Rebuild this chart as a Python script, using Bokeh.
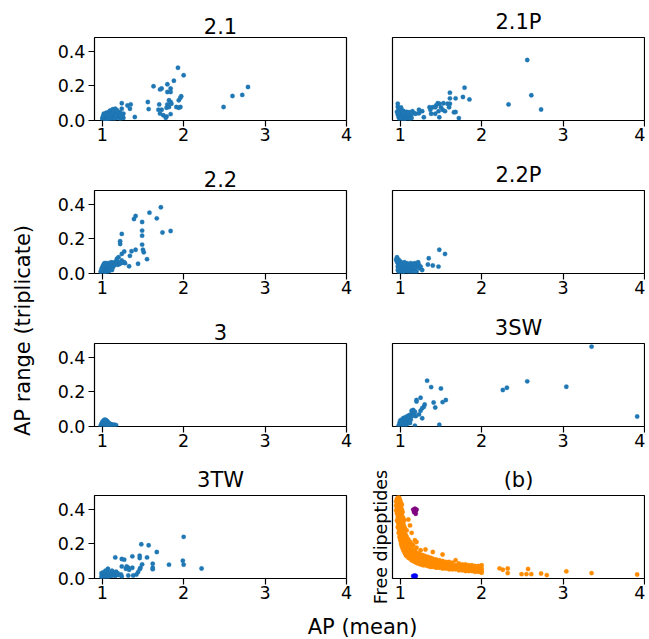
import math
from bokeh.plotting import figure
from bokeh.layouts import row, column
from bokeh.models import Range1d, Label, FixedTicker, PrintfTickFormatter
from bokeh.embed import file_html
from bokeh.resources import INLINE

FONT = "DejaVu Sans"
BLUE = "#1f77b4"
ORANGE = "#ff8c00"
PURPLE = "#800080"
PURE_BLUE = "#0000ff"

TITLES = ["2.1", "2.1P", "2.2", "2.2P", "3", "3SW", "3TW", "(b)"]
X_TICKS = [1, 2, 3, 4]
Y_TICKS = [0.0, 0.2, 0.4]
X_LABEL = "AP (mean)"
Y_LABEL = "AP range (triplicate)"
B_YLABEL = "Free dipeptides"

P_21 = [(1.93,0.305),(2.00,0.262),(1.88,0.23),(1.63,0.198),(1.80,0.21),(1.71,0.18),(1.73,0.185),(1.80,0.165),
        (1.84,0.185),(1.84,0.165),(1.56,0.107),(1.57,0.066),(1.70,0.093),(1.69,0.062),(1.73,0.062),(1.71,0.04),
        (1.75,0.03),(1.79,0.023),(1.78,0.016),(1.84,0.037),(1.82,0.117),(1.80,0.093),(1.84,0.107),(1.85,0.097),
        (1.91,0.078),(1.94,0.074),(1.96,0.078),(1.94,0.117),(1.96,0.132),(1.97,0.14),(1.79,0.074),(1.82,0.078),
        (2.49,0.078),(2.60,0.142),(2.72,0.148),(2.79,0.194),(1.24,0.10),(1.31,0.087),(1.34,0.068),(1.35,0.093),
        (1.40,0.02),(1.24,0.068),(1.26,0.04),(1.16,0.068),(1.10,0.058),
        (1.00,0.010),(1.01,0.020),(1.02,0.005),(1.02,0.030),(1.03,0.015),(1.03,0.035),(1.04,0.020),(1.04,0.010),
        (1.05,0.030),(1.05,0.045),(1.06,0.015),(1.06,0.025),(1.07,0.040),(1.07,0.010),(1.08,0.020),(1.08,0.050),
        (1.09,0.030),(1.09,0.012),(1.10,0.025),(1.10,0.055),(1.11,0.035),(1.12,0.020),(1.12,0.045),(1.13,0.030),
        (1.14,0.060),(1.15,0.025),(1.16,0.040),(1.17,0.015),(1.18,0.035),(1.19,0.020),(1.20,0.030),(1.21,0.020),
        (1.22,0.010),(1.24,0.035),(1.25,0.025),(1.01,0.025),(1.03,0.005),(1.05,0.008),(1.07,0.030),(1.09,0.040),
        (1.11,0.008),(1.13,0.050),(1.15,0.010),(1.17,0.028),(1.02,0.040),(1.04,0.038),(1.06,0.008),(1.08,0.030),
        (1.20,0.050),(1.22,0.045),(1.18,0.060),(1.13,0.065),(1.26,0.015),(1.23,0.030)]

P_21P = [(2.56,0.35),(2.61,0.146),(2.73,0.064),(2.33,0.093),(1.79,0.19),(1.85,0.122),(1.77,0.136),(1.61,0.161),
         (1.68,0.128),(1.61,0.128),(1.72,0.014),(1.68,0.049),(1.53,0.100),(1.58,0.097),(1.48,0.097),(1.46,0.100),
         (1.44,0.087),(1.43,0.077),(1.50,0.077),(1.52,0.062),(1.55,0.054),(1.47,0.054),(1.40,0.077),(1.36,0.077),
         (1.37,0.062),(1.48,0.019),(1.38,0.039),(1.43,0.039),(1.27,0.054),(1.23,0.062),(1.23,0.042),(1.15,0.054),
         (1.17,0.042),(1.19,0.039),(1.11,0.048),(1.09,0.029),(1.07,0.039),(1.29,0.019),(1.66,0.048),(1.60,0.077),
         (1.61,0.097),
         (0.97,0.097),(0.97,0.08),(0.98,0.065),(0.96,0.05),(0.97,0.035),(0.98,0.02),(0.99,0.01),(1.00,0.04),
         (1.00,0.06),(1.01,0.025),(1.01,0.075),(1.02,0.005),(1.02,0.045),(1.03,0.03),(1.03,0.015),(1.04,0.055),
         (1.04,0.02),(1.05,0.035),(1.05,0.008),(1.06,0.045),(1.06,0.02),(1.07,0.01),(1.08,0.03),(1.08,0.05),
         (1.09,0.015),(1.10,0.04),(1.11,0.02),(1.12,0.01),(1.13,0.03),(1.14,0.015),(0.99,0.045),(1.00,0.02),
         (1.02,0.06),(0.98,0.04),(1.01,0.012),(1.03,0.05)]

P_22 = [(1.72,0.383),(1.58,0.352),(1.67,0.319),(1.41,0.333),(1.39,0.315),(1.49,0.298),(1.49,0.248),(1.49,0.219),
        (1.74,0.237),(1.84,0.246),(1.24,0.229),(1.22,0.187),(1.22,0.171),(1.49,0.167),(1.50,0.137),(1.51,0.123),
        (1.41,0.137),(1.36,0.129),(1.27,0.127),(1.24,0.113),(1.34,0.102),(1.55,0.083),(1.44,0.056),(1.33,0.042),
        (1.20,0.094),(1.24,0.075),(1.27,0.065),(1.18,0.085),
        (0.98,0.01),(0.99,0.025),(1.00,0.005),(1.00,0.035),(1.01,0.015),(1.01,0.045),(1.02,0.025),(1.02,0.055),
        (1.03,0.01),(1.03,0.035),(1.04,0.02),(1.04,0.045),(1.05,0.03),(1.05,0.06),(1.06,0.015),(1.06,0.04),
        (1.07,0.05),(1.07,0.025),(1.08,0.035),(1.08,0.06),(1.09,0.045),(1.09,0.02),(1.10,0.055),(1.10,0.03),
        (1.11,0.04),(1.11,0.065),(1.12,0.05),(1.13,0.06),(1.13,0.035),(1.14,0.045),(1.15,0.065),(1.15,0.05),
        (1.16,0.055),(1.17,0.07),(1.18,0.06),(1.19,0.05),(1.20,0.065),(1.21,0.055),(1.22,0.06),(1.23,0.06),
        (1.25,0.065),(1.28,0.06),(1.02,0.005),(1.05,0.008),(1.08,0.012),(1.12,0.02),(1.03,0.06),(1.00,0.02)]

P_22P = [(1.48,0.137),(1.55,0.113),(1.35,0.088),(1.34,0.052),(1.40,0.046),(1.47,0.04),(0.96,0.094),(0.95,0.08),
         (0.96,0.07),(0.97,0.06),(0.97,0.04),(0.97,0.02),(0.98,0.08),(0.98,0.05),(0.98,0.03),(0.98,0.01),
         (0.99,0.065),(0.99,0.045),(0.99,0.02),(1.00,0.07),(1.00,0.055),(1.00,0.035),(1.00,0.01),(1.01,0.06),
         (1.01,0.04),(1.01,0.02),(1.02,0.05),(1.02,0.03),(1.02,0.005),(1.03,0.06),(1.03,0.04),(1.03,0.015),
         (1.04,0.05),(1.04,0.025),(1.05,0.04),(1.05,0.01),(1.06,0.055),(1.06,0.03),(1.07,0.045),(1.07,0.015),
         (1.08,0.06),(1.08,0.035),(1.09,0.05),(1.09,0.02),(1.10,0.04),(1.10,0.01),(1.11,0.055),(1.11,0.03),
         (1.12,0.045),(1.12,0.015),(1.13,0.06),(1.13,0.035),(1.14,0.05),(1.14,0.02),(1.15,0.04),(1.16,0.055),
         (1.16,0.025),(1.17,0.045),(1.18,0.06),(1.18,0.03),(1.19,0.05),(1.20,0.04),(1.21,0.055),(1.22,0.035),
         (1.23,0.05),(1.24,0.03),(1.25,0.04),(1.27,0.02),(1.22,0.065),(1.05,0.065),(1.15,0.005),(1.20,0.01)]

P_3 = [(0.98,0.005),(0.99,0.015),(1.00,0.025),(1.00,0.01),(1.01,0.03),(1.01,0.02),(1.02,0.035),(1.02,0.01),
       (1.03,0.04),(1.03,0.025),(1.04,0.03),(1.04,0.015),(1.05,0.035),(1.05,0.02),(1.06,0.03),(1.06,0.01),
       (1.07,0.025),(1.07,0.015),(1.08,0.02),(1.09,0.01),(1.10,0.015),(1.11,0.01),(1.12,0.012),(1.13,0.008),
       (1.15,0.01),(1.17,0.008),(1.03,0.005),(1.05,0.005),(1.02,0.02),(1.04,0.038),(1.06,0.02),(1.08,0.01)]

P_3SW = [(3.35,0.462),(2.56,0.261),(3.04,0.23),(2.26,0.211),(2.31,0.224),(3.91,0.058),(1.33,0.265),(1.38,0.228),
         (1.50,0.22),(1.41,0.139),(1.43,0.11),(1.52,0.141),(1.56,0.153),(1.25,0.166),(1.20,0.153),(1.29,0.114),
         (1.27,0.106),(1.25,0.091),(1.14,0.091),(1.16,0.095),(1.27,0.048),(1.48,0.01),(1.18,0.004),(1.20,0.145),
         (1.30,0.127),(1.23,0.07),(1.19,0.06),
         (0.98,0.005),(0.99,0.02),(1.00,0.01),(1.00,0.035),(1.01,0.02),(1.02,0.04),(1.02,0.01),(1.03,0.03),
         (1.04,0.05),(1.04,0.015),(1.05,0.035),(1.06,0.045),(1.06,0.02),(1.07,0.055),(1.07,0.03),(1.08,0.04),
         (1.09,0.06),(1.09,0.025),(1.10,0.05),(1.11,0.065),(1.11,0.035),(1.12,0.055),(1.13,0.07),(1.13,0.04),
         (1.14,0.06),(1.15,0.08),(1.16,0.065),(1.17,0.075),(1.18,0.085),(1.02,0.025),(1.05,0.008),(1.08,0.012),
         (1.12,0.02)]

P_3TW = [(2.00,0.241),(1.48,0.198),(1.57,0.192),(1.67,0.153),(1.16,0.122),(1.37,0.128),(1.46,0.132),(1.46,0.118),
         (1.55,0.122),(1.24,0.113),(1.27,0.109),(1.99,0.103),(2.00,0.08),(1.82,0.08),(2.22,0.058),(1.62,0.085),
         (1.62,0.062),(1.62,0.054),(1.49,0.082),(1.47,0.062),(1.46,0.054),(1.44,0.037),(1.42,0.023),(1.30,0.07),
         (1.32,0.062),(1.33,0.05),(1.29,0.056),(1.24,0.07),(1.37,0.062),(1.38,0.017),(1.32,0.017),(1.24,0.012),
         (1.23,0.023),(1.07,0.056),
         (0.99,0.01),(0.99,0.03),(1.00,0.02),(1.01,0.035),(1.01,0.005),(1.02,0.025),(1.03,0.015),(1.03,0.035),
         (1.04,0.02),(1.05,0.03),(1.05,0.008),(1.06,0.04),(1.06,0.018),(1.07,0.025),(1.08,0.035),(1.08,0.01),
         (1.09,0.02),(1.10,0.03),(1.11,0.015),(1.12,0.025),(1.13,0.035),(1.14,0.02),(1.15,0.03),(1.16,0.015),
         (1.17,0.04),(1.18,0.025),(1.20,0.02),(1.19,0.03),(1.12,0.045),(1.04,0.045),(1.00,0.005)]

# panel (b): free dipeptides (arbitrary vertical units, no ticks)
B_ORANGE = [(0.95,0.82),(0.95,0.88),(0.95,0.93),
            (0.96,0.70),(0.96,0.78),(0.96,0.85),(0.96,0.91),(0.96,0.96),
            (0.97,0.62),(0.97,0.68),(0.97,0.74),(0.97,0.80),(0.97,0.86),(0.97,0.92),(0.97,0.97),
            (0.98,0.55),(0.98,0.60),(0.98,0.66),(0.98,0.72),(0.98,0.78),(0.98,0.84),(0.98,0.90),(0.98,0.95),(0.98,0.98),
            (0.99,0.50),(0.99,0.56),(0.99,0.63),(0.99,0.69),(0.99,0.75),(0.99,0.81),(0.99,0.87),(0.99,0.93),(0.99,0.97),
            (1.00,0.46),(1.00,0.52),(1.00,0.58),(1.00,0.64),(1.00,0.70),(1.00,0.76),(1.00,0.82),(1.00,0.88),(1.00,0.94),
            (1.01,0.42),(1.01,0.48),(1.01,0.54),(1.01,0.60),(1.01,0.67),(1.01,0.73),(1.01,0.79),(1.01,0.85),(1.01,0.91),
            (1.02,0.39),(1.02,0.45),(1.02,0.51),(1.02,0.57),(1.02,0.63),(1.02,0.70),(1.02,0.76),(1.02,0.83),(1.02,0.89),
            (1.03,0.36),(1.03,0.42),(1.03,0.48),(1.03,0.54),(1.03,0.60),(1.03,0.67),(1.03,0.74),(1.03,0.80),
            (1.04,0.34),(1.04,0.40),(1.04,0.46),(1.04,0.52),(1.04,0.58),(1.04,0.65),(1.04,0.72),
            (1.05,0.32),(1.05,0.37),(1.05,0.43),(1.05,0.49),(1.05,0.55),(1.05,0.62),(1.05,0.70),
            (1.06,0.30),(1.06,0.35),(1.06,0.41),(1.06,0.47),(1.06,0.53),(1.06,0.60),
            (1.07,0.28),(1.07,0.33),(1.07,0.39),(1.07,0.45),(1.07,0.52),
            (1.08,0.27),(1.08,0.32),(1.08,0.37),(1.08,0.43),(1.08,0.50),(1.08,0.58),
            (1.10,0.25),(1.10,0.30),(1.10,0.35),(1.10,0.41),(1.10,0.47),(1.10,0.71),
            (1.12,0.24),(1.12,0.28),(1.12,0.33),(1.12,0.38),(1.12,0.44),(1.12,0.64),
            (1.14,0.22),(1.14,0.27),(1.14,0.31),(1.14,0.36),(1.14,0.42),(1.14,0.55),
            (1.16,0.21),(1.16,0.25),(1.16,0.30),(1.16,0.34),(1.16,0.40),
            (1.18,0.20),(1.18,0.24),(1.18,0.28),(1.18,0.33),(1.18,0.46),
            (1.20,0.19),(1.20,0.23),(1.20,0.27),(1.20,0.31),(1.20,0.37),(1.20,0.44),
            (1.22,0.18),(1.22,0.22),(1.22,0.26),(1.22,0.30),
            (1.25,0.17),(1.25,0.21),(1.25,0.25),(1.25,0.29),(1.25,0.34),
            (1.28,0.16),(1.28,0.20),(1.28,0.24),(1.28,0.28),
            (1.31,0.16),(1.31,0.19),(1.31,0.23),(1.31,0.27),(1.31,0.35),
            (1.34,0.15),(1.34,0.18),(1.34,0.22),(1.34,0.26),
            (1.37,0.14),(1.37,0.18),(1.37,0.21),(1.37,0.25),
            (1.40,0.14),(1.40,0.17),(1.40,0.21),(1.40,0.24),(1.40,0.32),
            (1.44,0.13),(1.44,0.16),(1.44,0.20),(1.44,0.23),
            (1.48,0.13),(1.48,0.16),(1.48,0.19),(1.48,0.22),
            (1.52,0.12),(1.52,0.15),(1.52,0.18),(1.52,0.21),(1.52,0.29),
            (1.56,0.12),(1.56,0.15),(1.56,0.18),(1.56,0.20),
            (1.60,0.11),(1.60,0.14),(1.60,0.17),(1.60,0.20),
            (1.64,0.11),(1.64,0.14),(1.64,0.16),(1.64,0.19),
            (1.68,0.11),(1.68,0.13),(1.68,0.16),(1.68,0.22),
            (1.72,0.10),(1.72,0.13),(1.72,0.15),(1.72,0.18),
            (1.76,0.10),(1.76,0.12),(1.76,0.15),(1.76,0.17),
            (1.80,0.09),(1.80,0.12),(1.80,0.14),(1.80,0.17),
            (1.84,0.09),(1.84,0.11),(1.84,0.14),(1.84,0.16),
            (1.88,0.09),(1.88,0.11),(1.88,0.13),(1.88,0.16),
            (1.92,0.08),(1.92,0.10),(1.92,0.13),(1.92,0.15),
            (1.96,0.08),(1.96,0.10),(1.96,0.12),(1.96,0.15),
            (2.00,0.07),(2.00,0.09),(2.00,0.12),(2.00,0.16),
            (2.22,0.122),(2.26,0.106),(2.32,0.12),(2.32,0.065),(2.49,0.053),(2.55,0.053),(2.57,0.114),
            (2.61,0.053),(2.73,0.061),(2.80,0.041),(3.04,0.086),(3.35,0.065),(3.91,0.049)]
B_PURPLE = [(1.16,0.83),(1.18,0.84),(1.19,0.82),(1.17,0.80),(1.19,0.78),(1.18,0.81),(1.20,0.83)]
B_BLUE = [(1.16,0.03),(1.18,0.035),(1.19,0.03),(1.17,0.028)]

PANELS = [
    (TITLES[0], [(P_21, BLUE)]),
    (TITLES[1], [(P_21P, BLUE)]),
    (TITLES[2], [(P_22, BLUE)]),
    (TITLES[3], [(P_22P, BLUE)]),
    (TITLES[4], [(P_3, BLUE)]),
    (TITLES[5], [(P_3SW, BLUE)]),
    (TITLES[6], [(P_3TW, BLUE)]),
    (TITLES[7], [(B_ORANGE, ORANGE), (B_PURPLE, PURPLE), (B_BLUE, PURE_BLUE)]),
]

X_RANGE = (0.905, 4.0)
Y_RANGE = (0.0, 0.48)
B_RANGE = (0.0, 1.0)

TICK_FS = "17.5px"
TITLE_FS = "21px"


def make_panel(idx, title, series):
    is_left = idx % 2 == 0
    last = idx >= 6
    is_b = idx == 7
    if last:
        h, mbt, mbb = 153, 36, 34
    else:
        h, mbt, mbb = 153, 37, 33
    if is_left:
        w, mbl, mbr = 320, 58, 10
    else:
        w, mbl, mbr = 289, 36, 1
    yr = B_RANGE if is_b else Y_RANGE
    kw = {}
    if not is_left and not is_b:
        kw["y_axis_location"] = None
    p = figure(width=w, height=h, x_range=Range1d(*X_RANGE), y_range=Range1d(*yr),
               output_backend="svg", toolbar_location=None,
               min_border_left=mbl, min_border_right=mbr, min_border_top=mbt, min_border_bottom=mbb,
               **kw)
    p.title.text = title
    p.title.align = "center"
    p.title.text_font = FONT
    p.title.text_font_size = TITLE_FS
    p.title.text_font_style = "normal"
    p.title.text_color = "black"
    p.title.standoff = 8
    p.grid.visible = False
    p.outline_line_color = "black"
    p.outline_line_width = 1.2
    p.outline_line_alpha = 1.0
    p.background_fill_color = "white"
    p.border_fill_color = "white"
    for pts, color in series:
        p.scatter([a for a, b in pts], [b for a, b in pts], size=4.4,
                  fill_color=color, line_color=color, line_width=0.3)
    xa = p.xaxis[0]
    xa.ticker = FixedTicker(ticks=X_TICKS)
    xa.axis_line_color = None
    xa.major_tick_out = 6
    xa.major_tick_in = 0
    xa.major_tick_line_width = 1.2
    xa.minor_tick_line_color = None
    xa.major_label_standoff = 1
    xa.major_label_text_font = FONT
    xa.major_label_text_font_size = TICK_FS
    xa.major_label_text_color = "black"
    if is_left:
        ya = p.yaxis[0]
        ya.ticker = FixedTicker(ticks=Y_TICKS)
        ya.formatter = PrintfTickFormatter(format="%.1f")
        ya.axis_line_color = None
        ya.major_tick_out = 6
        ya.major_tick_in = 0
        ya.major_tick_line_width = 1.2
        ya.minor_tick_line_color = None
        ya.major_label_standoff = 3
        ya.major_label_text_font = FONT
        ya.major_label_text_font_size = TICK_FS
        ya.major_label_text_color = "black"
    elif is_b:
        ya = p.yaxis[0]
        ya.ticker = FixedTicker(ticks=[])
        ya.axis_line_color = None
        ya.major_tick_out = 0
        ya.minor_tick_line_color = None
        ya.major_label_text_font_size = "0px"
        ya.axis_label = B_YLABEL
        ya.axis_label_text_font = FONT
        ya.axis_label_text_font_size = TICK_FS
        ya.axis_label_text_font_style = "normal"
        ya.axis_label_text_color = "black"
        ya.axis_label_standoff = 2
    return p


panels = [make_panel(i, t, s) for i, (t, s) in enumerate(PANELS)]

TOTAL_H = 638
ylab = figure(width=36, height=TOTAL_H, x_range=Range1d(0, 36), y_range=Range1d(0, TOTAL_H),
              output_backend="svg", toolbar_location=None, x_axis_location=None,
              y_axis_location=None, min_border=0)
ylab.grid.visible = False
ylab.outline_line_color = None
ylab.add_layout(Label(x=22, y=TOTAL_H - 330, text=Y_LABEL, angle=math.pi / 2, text_align="center",
                      text_baseline="middle", text_font=FONT, text_font_size=TITLE_FS,
                      text_color="black"))

XL_H = TOTAL_H - 4 * 153
xlab = figure(width=609, height=XL_H, x_range=Range1d(0, 609), y_range=Range1d(0, XL_H),
              output_backend="svg", toolbar_location=None, x_axis_location=None,
              y_axis_location=None, min_border=0)
xlab.grid.visible = False
xlab.outline_line_color = None
xlab.add_layout(Label(x=362 - 36, y=TOTAL_H - 626, text=X_LABEL, text_align="center",
                      text_baseline="middle", text_font=FONT, text_font_size=TITLE_FS,
                      text_color="black"))

grid = column(row(panels[0], panels[1]), row(panels[2], panels[3]),
              row(panels[4], panels[5]), row(panels[6], panels[7]), xlab)
layout = row(ylab, grid)

open("out.html", "w").write(file_html(layout, INLINE))
